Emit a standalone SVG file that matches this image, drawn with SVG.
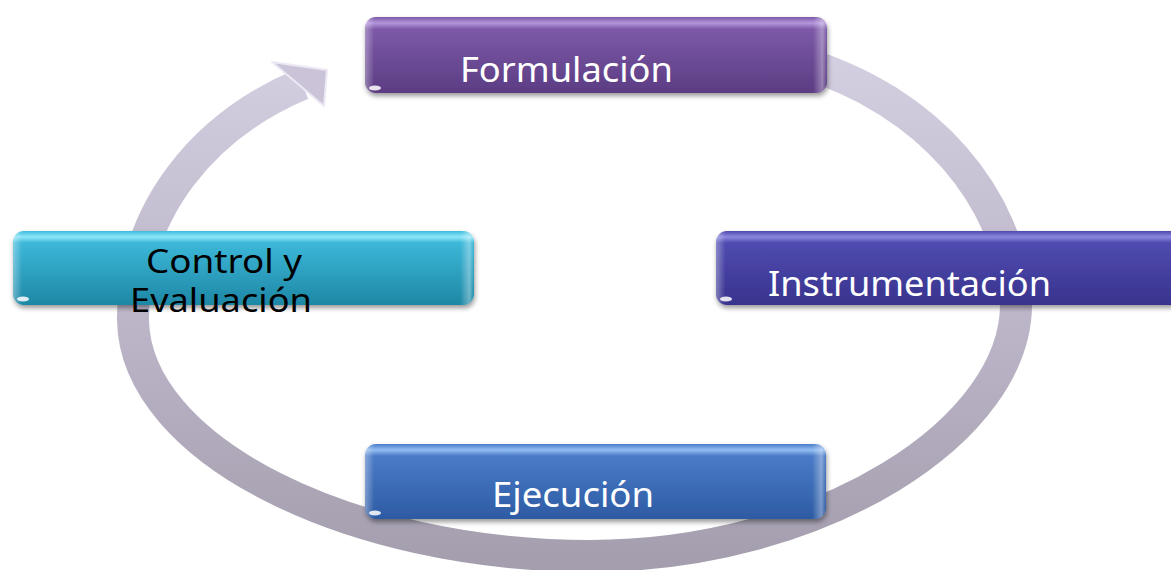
<svg xmlns="http://www.w3.org/2000/svg" width="1171" height="570" viewBox="0 0 1171 570">
<defs>
  <linearGradient id="ringGrad" gradientUnits="userSpaceOnUse" x1="0" y1="60" x2="0" y2="570">
    <stop offset="0" stop-color="#d4cee1"/>
    <stop offset="0.5" stop-color="#bdb6c9"/>
    <stop offset="1" stop-color="#a39dad"/>
  </linearGradient>
  <linearGradient id="gForm" x1="0" y1="0" x2="0" y2="1">
    <stop offset="0" stop-color="#7b58a6"/>
    <stop offset="0.08" stop-color="#b496dc"/>
    <stop offset="0.16" stop-color="#7c59a7"/>
    <stop offset="1" stop-color="#5c3c83"/>
  </linearGradient>
  <linearGradient id="gInst" x1="0" y1="0" x2="0" y2="1">
    <stop offset="0" stop-color="#4d49ad"/>
    <stop offset="0.08" stop-color="#8c88e0"/>
    <stop offset="0.16" stop-color="#4f4bb0"/>
    <stop offset="1" stop-color="#38338d"/>
  </linearGradient>
  <linearGradient id="gCtrl" x1="0" y1="0" x2="0" y2="1">
    <stop offset="0" stop-color="#3bbbdc"/>
    <stop offset="0.08" stop-color="#8ee6f8"/>
    <stop offset="0.16" stop-color="#3cb7d8"/>
    <stop offset="1" stop-color="#1e87a5"/>
  </linearGradient>
  <linearGradient id="gEjec" x1="0" y1="0" x2="0" y2="1">
    <stop offset="0" stop-color="#4a7cc8"/>
    <stop offset="0.08" stop-color="#93bdf2"/>
    <stop offset="0.16" stop-color="#4a7bc7"/>
    <stop offset="1" stop-color="#2d5ba3"/>
  </linearGradient>
  <linearGradient id="edgeShade" x1="0" y1="0" x2="1" y2="0">
    <stop offset="0" stop-color="#ffffff" stop-opacity="0.35"/>
    <stop offset="0.02" stop-color="#ffffff" stop-opacity="0"/>
    <stop offset="0.97" stop-color="#ffffff" stop-opacity="0"/>
    <stop offset="0.99" stop-color="#ffffff" stop-opacity="0.35"/>
    <stop offset="1" stop-color="#ffffff" stop-opacity="0"/>
  </linearGradient>
  <filter id="shadow" x="-5%" y="-20%" width="110%" height="150%">
    <feDropShadow dx="1" dy="3" stdDeviation="2.5" flood-color="#000000" flood-opacity="0.4"/>
  </filter>
</defs>
<style>
  .box { stroke: none; }
  .lbl { font-family: "Noto Sans", "Open Sans", sans-serif; font-size: 34px; }
  .lbl2 { font-family: "Noto Sans", "Open Sans", sans-serif; font-size: 32px; }
  .white { fill: #ffffff; }
  .black { fill: #000000; }
  .glint { fill: #ffffff; opacity: 0.85; }
  .ring { fill: none; stroke: url(#ringGrad); stroke-width: 32; }
</style>

<g id="connectors">
  <path class="ring" d="M 800,62 C 930,100 1010,200 1016,300 C 1020,430 820,556 590,556 C 350,556 135,450 133,320 C 132,210 205,125 302,84"/>
  <polygon points="272,62 327,70 324,106" fill="#cbc4d8" stroke="#ece8f4" stroke-width="2" stroke-linejoin="round"/>
</g>

<g id="node-formulacion">
  <rect class="box" x="365" y="17" width="462" height="76" rx="11" fill="url(#gForm)" filter="url(#shadow)"/>
  <rect x="365" y="17" width="462" height="76" rx="11" fill="url(#edgeShade)"/>
  <ellipse class="glint" cx="375" cy="88" rx="6" ry="2.5"/>
  <text class="lbl white" x="460" y="82" textLength="213" lengthAdjust="spacingAndGlyphs">Formulación</text>
</g>

<g id="node-instrumentacion">
  <rect class="box" x="716" y="231" width="470" height="74" rx="11" fill="url(#gInst)" filter="url(#shadow)"/>
  <rect x="716" y="231" width="470" height="74" rx="11" fill="url(#edgeShade)"/>
  <ellipse class="glint" cx="726" cy="299" rx="6" ry="2.5"/>
  <text class="lbl white" x="768" y="296" textLength="283" lengthAdjust="spacingAndGlyphs">Instrumentación</text>
</g>

<g id="node-control">
  <rect class="box" x="13" y="231" width="461" height="74" rx="11" fill="url(#gCtrl)" filter="url(#shadow)"/>
  <rect x="13" y="231" width="461" height="74" rx="11" fill="url(#edgeShade)"/>
  <ellipse class="glint" cx="23" cy="299" rx="6" ry="2.5"/>
  <text class="lbl2 black" x="146" y="273" textLength="156" lengthAdjust="spacingAndGlyphs">Control y</text>
  <text class="lbl2 black" x="130" y="312" textLength="182" lengthAdjust="spacingAndGlyphs">Evaluación</text>
</g>

<g id="node-ejecucion">
  <rect class="box" x="365" y="444" width="461" height="75" rx="11" fill="url(#gEjec)" filter="url(#shadow)"/>
  <rect x="365" y="444" width="461" height="75" rx="11" fill="url(#edgeShade)"/>
  <ellipse class="glint" cx="375" cy="513" rx="6" ry="2.5"/>
  <text class="lbl white" x="492" y="507" textLength="162" lengthAdjust="spacingAndGlyphs">Ejecución</text>
</g>
</svg>
